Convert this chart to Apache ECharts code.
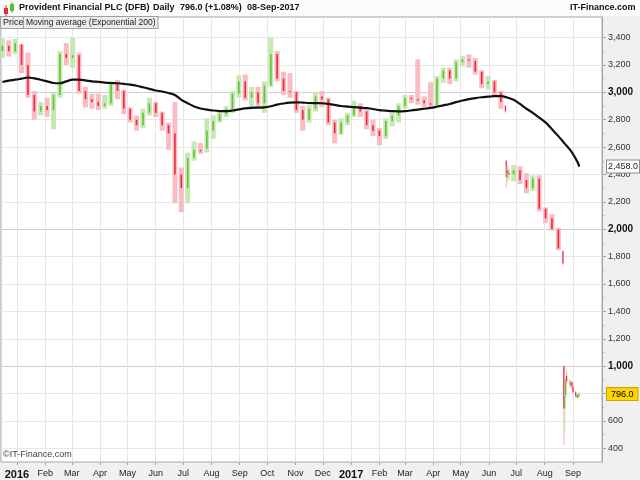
<!DOCTYPE html>
<html>
<head>
<meta charset="utf-8">
<script src="https://cdn.jsdelivr.net/npm/echarts@6/dist/echarts.min.js"></script>
<style>
  html, body { margin: 0; padding: 0; background: #f0f0f0; }
  #chart { width: 640px; height: 480px; }
</style>
</head>
<body>
<div id="chart"></div>
<script>
// weekly bars (Wednesday of each week)
const weekDates = [
  '2015-12-16', '2015-12-23', '2015-12-30', '2016-01-06', '2016-01-13', '2016-01-20', '2016-01-27', '2016-02-03',
  '2016-02-10', '2016-02-17', '2016-02-24', '2016-03-02', '2016-03-09', '2016-03-16', '2016-03-23', '2016-03-30',
  '2016-04-06', '2016-04-13', '2016-04-20', '2016-04-27', '2016-05-04', '2016-05-11', '2016-05-18', '2016-05-25',
  '2016-06-01', '2016-06-08', '2016-06-15', '2016-06-22', '2016-06-29', '2016-07-06', '2016-07-13', '2016-07-20',
  '2016-07-27', '2016-08-03', '2016-08-10', '2016-08-17', '2016-08-24', '2016-08-31', '2016-09-07', '2016-09-14',
  '2016-09-21', '2016-09-28', '2016-10-05', '2016-10-12', '2016-10-19', '2016-10-26', '2016-11-02', '2016-11-09',
  '2016-11-16', '2016-11-23', '2016-11-30', '2016-12-07', '2016-12-14', '2016-12-21', '2016-12-28', '2017-01-04',
  '2017-01-11', '2017-01-18', '2017-01-25', '2017-02-01', '2017-02-08', '2017-02-15', '2017-02-22', '2017-03-01',
  '2017-03-08', '2017-03-15', '2017-03-22', '2017-03-29', '2017-04-05', '2017-04-12', '2017-04-19', '2017-04-26',
  '2017-05-03', '2017-05-10', '2017-05-17', '2017-05-24', '2017-05-31', '2017-06-07', '2017-06-14',
  '2017-06-28', '2017-07-05', '2017-07-12', '2017-07-19', '2017-07-26', '2017-08-02', '2017-08-09', '2017-08-16'
]
const weekOpen = [
  3300, 3340, 3300, 3350, 3200, 2980, 2860, 2900, 2870, 2980, 3280, 3250, 3270, 3010, 2950, 2930,
  2900, 2920, 3060, 3010, 2880, 2800, 2760, 2850, 2920, 2850, 2760, 2700, 2400, 2300, 2520, 2580,
  2590, 2720, 2790, 2840, 2880, 2990, 3080, 2960, 3000, 2920, 3050, 3280, 3100, 3010, 3000, 2870,
  2800, 2880, 2970, 2950, 2780, 2700, 2780, 2830, 2900, 2860, 2760, 2720, 2680, 2790, 2830, 2900,
  2960, 2950, 2940, 2920, 2910, 3100, 3160, 3100, 3220, 3240, 3230, 3150, 3060, 3080, 3000,
  2400, 2430, 2360, 2300, 2370, 2150, 2080, 2000
]
const weekClose = [
  3340, 3300, 3360, 3200, 2980, 2860, 2900, 2870, 2980, 3280, 3250, 3270, 3010, 2950, 2930, 2900,
  2920, 3060, 3010, 2880, 2800, 2760, 2850, 2920, 2850, 2760, 2700, 2400, 2300, 2520, 2580, 2570,
  2720, 2790, 2840, 2880, 2990, 3080, 2960, 3000, 2920, 3050, 3280, 3100, 3010, 3000, 2870, 2800,
  2880, 2970, 2950, 2780, 2700, 2780, 2830, 2900, 2860, 2760, 2720, 2680, 2790, 2830, 2900, 2960,
  2950, 2940, 2920, 2910, 3100, 3160, 3100, 3220, 3240, 3230, 3150, 3060, 3080, 3000, 2930,
  2430, 2360, 2300, 2370, 2150, 2080, 2000, 1860
]
const weekLow = [
  3250, 3260, 3280, 3140, 2960, 2800, 2830, 2820, 2730, 2960, 3200, 3180, 2990, 2890, 2880, 2870,
  2880, 2900, 2950, 2840, 2780, 2720, 2740, 2830, 2820, 2720, 2580, 2190, 2124, 2190, 2500, 2550,
  2560, 2660, 2780, 2820, 2850, 2960, 2940, 2890, 2890, 2850, 3040, 3080, 2980, 2960, 2850, 2720,
  2780, 2860, 2890, 2760, 2627, 2690, 2760, 2820, 2820, 2730, 2680, 2613, 2660, 2750, 2780, 2880,
  2920, 2910, 2890, 2880, 2900, 3070, 3060, 3080, 3190, 3180, 3130, 3030, 3020, 2970, 2880,
  2350, 2330, 2263, 2280, 2130, 2043, 1990, 1847
]
const weekHigh = [
  3394, 3380, 3390, 3350, 3290, 3010, 2930, 2960, 3000, 3300, 3360, 3400, 3290, 3040, 2990, 2990,
  2980, 3080, 3090, 3020, 2890, 2830, 2880, 2960, 2930, 2860, 2780, 2930, 2450, 2560, 2640, 2630,
  2810, 2830, 2870, 2900, 3010, 3124, 3130, 3040, 3040, 3080, 3400, 3300, 3150, 3140, 3010, 2900,
  2910, 3000, 3010, 2960, 2800, 2810, 2850, 2940, 2920, 2870, 2800, 2740, 2810, 2850, 2920, 2980,
  2980, 3241, 2970, 3073, 3120, 3180, 3180, 3240, 3265, 3277, 3250, 3160, 3120, 3090, 3010,
  2470, 2460, 2410, 2394, 2394, 2160, 2110, 2010
]

// daily bars around the two profit warnings
const dayDates = [
  '2017-06-19', '2017-06-20', '2017-06-21', '2017-06-22', '2017-06-23',
  '2017-08-21', '2017-08-22', '2017-08-23', '2017-08-24', '2017-08-25', '2017-08-29', '2017-08-30',
  '2017-08-31', '2017-09-01', '2017-09-04', '2017-09-05', '2017-09-06', '2017-09-07', '2017-09-08'
]
const dayOpen = [2900, 2500, 2380, 2430, 2410, 1840, 1000, 690, 780, 930, 890, 860, 880, 850, 810, 780, 790, 780, 787]
const dayClose = [2860, 2380, 2430, 2410, 2400, 1750, 690, 780, 900, 890, 860, 880, 850, 810, 780, 790, 770, 787, 796]
const dayLow = [2847, 2306, 2340, 2370, 2360, 1737, 423, 530, 770, 870, 840, 840, 830, 800, 770, 766, 766, 770, 775]
const dayHigh = [2910, 2504, 2470, 2460, 2440, 1850, 1007, 800, 920, 969, 900, 890, 890, 860, 820, 800, 800, 810, 805]

// exponential moving average (200)
const emaDates = [
  '2015-12-16', '2015-12-23', '2015-12-30', '2016-01-06', '2016-01-13', '2016-01-20', '2016-01-27', '2016-02-03',
  '2016-02-10', '2016-02-17', '2016-02-24', '2016-03-02', '2016-03-09', '2016-03-16', '2016-03-23', '2016-03-30',
  '2016-04-06', '2016-04-13', '2016-04-20', '2016-04-27', '2016-05-04', '2016-05-11', '2016-05-18', '2016-05-25',
  '2016-06-01', '2016-06-08', '2016-06-15', '2016-06-22', '2016-06-29', '2016-07-06', '2016-07-13', '2016-07-20',
  '2016-07-27', '2016-08-03', '2016-08-10', '2016-08-17', '2016-08-24', '2016-08-31', '2016-09-07', '2016-09-14',
  '2016-09-21', '2016-09-28', '2016-10-05', '2016-10-12', '2016-10-19', '2016-10-26', '2016-11-02', '2016-11-09',
  '2016-11-16', '2016-11-23', '2016-11-30', '2016-12-07', '2016-12-14', '2016-12-21', '2016-12-28', '2017-01-04',
  '2017-01-11', '2017-01-18', '2017-01-25', '2017-02-01', '2017-02-08', '2017-02-15', '2017-02-22', '2017-03-01',
  '2017-03-08', '2017-03-15', '2017-03-22', '2017-03-29', '2017-04-05', '2017-04-12', '2017-04-19', '2017-04-26',
  '2017-05-03', '2017-05-10', '2017-05-17', '2017-05-24', '2017-05-31', '2017-06-07', '2017-06-14', '2017-06-21',
  '2017-06-28', '2017-07-05', '2017-07-12', '2017-07-19', '2017-07-26', '2017-08-02', '2017-08-09', '2017-08-16',
  '2017-08-23', '2017-08-30', '2017-09-06', '2017-09-08'
]
const emaValues = [
  3075, 3085, 3092, 3100, 3108, 3102, 3092, 3080, 3068, 3066, 3080, 3092, 3093, 3087, 3080, 3076,
  3071, 3068, 3066, 3062, 3056, 3048, 3037, 3025, 3013, 3006, 2995, 2980, 2945, 2920, 2897, 2882,
  2873, 2867, 2863, 2862, 2867, 2875, 2882, 2886, 2888, 2890, 2898, 2910, 2918, 2924, 2927, 2925,
  2922, 2921, 2920, 2915, 2908, 2900, 2896, 2892, 2888, 2884, 2878, 2870, 2866, 2862, 2861, 2863,
  2868, 2874, 2880, 2886, 2895, 2905, 2915, 2928, 2940, 2950, 2958, 2964, 2968, 2972, 2972, 2962,
  2945, 2915, 2880, 2850, 2815, 2780, 2730, 2680, 2625, 2570, 2490, 2458
]

const monthTicks = [
  '2016-01-01', '2016-02-01', '2016-03-01', '2016-04-01', '2016-05-01', '2016-06-01', '2016-07-01',
  '2016-08-01', '2016-09-01', '2016-10-01', '2016-11-01', '2016-12-01', '2017-01-01', '2017-02-01',
  '2017-03-01', '2017-04-01', '2017-05-01', '2017-06-01', '2017-07-01', '2017-08-01', '2017-09-01'
]
const monthLabels = ['2016', 'Feb', 'Mar', 'Apr', 'May', 'Jun', 'Jul', 'Aug', 'Sep', 'Oct', 'Nov', 'Dec',
  '2017', 'Feb', 'Mar', 'Apr', 'May', 'Jun', 'Jul', 'Aug', 'Sep']
const yTicks = [400, 600, 800, 1000, 1200, 1400, 1600, 1800, 2000, 2200, 2400, 2600, 2800, 3000, 3200, 3400]
const yMinorTicks = [500, 700, 900, 1100, 1300, 1500, 1700, 1900, 2100, 2300, 2500, 2700, 2900, 3100, 3300]

const lastPrice = 796.0
const lastEma = 2458.0

const FONT = '"Liberation Sans", Arial, sans-serif'
// dates -> UTC timestamps, the x axis is a plain value axis over them
const ts = s => Date.parse(s.length === 10 ? s + 'T00:00:00Z' : s.replace(' ', 'T') + ':00Z')
const monthTs = monthTicks.map(ts)

const toBars = (dates, o, c, l, h) => dates.map((d, i) => [ts(d), o[i], c[i], l[i], h[i]])

const drawBar = (bodyW, wickW) => (params, api) => {
  const t = api.value(0)
  const o = api.value(1)
  const c = api.value(2)
  const [x, yH] = api.coord([t, api.value(4)])
  const yL = api.coord([t, api.value(3)])[1]
  const yO = api.coord([t, o])[1]
  const yC = api.coord([t, c])[1]
  const up = c >= o
  return {
    type: 'group',
    children: [
      {
        type: 'rect',
        shape: { x: x - wickW / 2, y: yH, width: wickW, height: Math.max(1, yL - yH) },
        style: { fill: up ? '#c6e8b2' : '#f8bcc2' }
      },
      {
        type: 'rect',
        shape: { x: x - bodyW / 2, y: Math.min(yO, yC), width: bodyW, height: Math.max(1, Math.abs(yC - yO)) },
        style: { fill: up ? '#62c232' : '#ea2a3c' }
      }
    ]
  }
}

const chart = echarts.init(document.querySelector('#chart'))

const option = {
  animation: false,
  backgroundColor: '#f0f0f0',
  textStyle: { fontFamily: FONT },
  grid: {
    left: 1, right: 38, top: 17, bottom: 18,
    show: true,
    backgroundColor: '#ffffff',
    borderColor: '#a8a8a8',
    borderWidth: 1
  },
  xAxis: {
    type: 'value',
    min: ts('2015-12-14 12:00'),
    max: ts('2017-10-02 19:00'),
    axisLine: { show: false },
    axisTick: { show: true, customValues: monthTs, length: 3, lineStyle: { color: '#a8a8a8' } },
    splitLine: { show: true, lineStyle: { color: '#e6e6e6', width: 1 } },
    axisLabel: {
      customValues: monthTs,
      margin: 7,
      fontSize: 9,
      color: '#222',
      fontFamily: FONT,
      formatter: value => {
        const i = monthTs.indexOf(value)
        const lab = i >= 0 ? monthLabels[i] : ''
        return /^\d{4}$/.test(lab) ? `{b|${lab}}` : lab
      },
      rich: { b: { fontSize: 11, fontWeight: 'bold', color: '#111', fontFamily: FONT } }
    }
  },
  yAxis: [
    {
      type: 'value',
      position: 'right',
      min: 300,
      max: 3550,
      axisLine: { show: true, lineStyle: { color: '#a8a8a8' } },
      axisTick: { show: true, customValues: yTicks, length: 4, lineStyle: { color: '#a8a8a8' } },
      splitLine: {
        show: true,
        lineStyle: { color: ['#e8e8e8', '#e8e8e8', '#e8e8e8', '#cdcdcd', '#e8e8e8'], width: 1 }
      },
      axisLabel: {
        customValues: yTicks,
        margin: 6,
        fontSize: 9,
        color: '#333',
        fontFamily: FONT,
        formatter: v => {
          const s = v.toLocaleString('en-US')
          return v % 1000 === 0 ? `{b|${s}}` : s
        },
        rich: { b: { fontSize: 10, fontWeight: 'bold', color: '#111', fontFamily: FONT } }
      }
    },
    {
      type: 'value',
      position: 'right',
      min: 300,
      max: 3550,
      axisLine: { show: false },
      axisTick: { show: true, customValues: yMinorTicks, length: 2, lineStyle: { color: '#a8a8a8' } },
      splitLine: { show: false },
      axisLabel: { show: false }
    }
  ],
  series: [
    {
      name: 'Price',
      type: 'custom',
      renderItem: drawBar(1.6, 5),
      encode: { x: 0, y: [1, 2, 3, 4] },
      clip: true,
      data: toBars(weekDates, weekOpen, weekClose, weekLow, weekHigh)
    },
    {
      name: 'Price daily',
      type: 'custom',
      renderItem: drawBar(1.2, 1.2),
      encode: { x: 0, y: [1, 2, 3, 4] },
      clip: true,
      data: toBars(dayDates, dayOpen, dayClose, dayLow, dayHigh)
    },
    {
      name: 'Moving average (Exponential 200)',
      type: 'line',
      z: 5,
      clip: false,
      smooth: 0.3,
      showSymbol: false,
      lineStyle: { color: '#111', width: 2.2 },
      data: emaDates.map((d, i) => [ts(d), emaValues[i]]),
      markLine: {
        silent: true,
        symbol: 'none',
        lineStyle: { color: 'rgba(0,0,0,0)', width: 1 },
        data: [
          {
            yAxis: lastPrice,
            label: {
              show: true, position: 'end', distance: 5, formatter: lastPrice.toFixed(1),
              fontSize: 9, color: '#000', fontFamily: FONT,
              backgroundColor: '#ffd400', borderColor: '#c8a400', borderWidth: 1, padding: [2, 4, 1, 4]
            }
          },
          {
            yAxis: lastEma,
            label: {
              show: true, position: 'end', distance: 5, formatter: lastEma.toLocaleString('en-US', { minimumFractionDigits: 1 }),
              fontSize: 9, color: '#222', fontFamily: FONT,
              backgroundColor: '#ffffff', borderColor: '#888', borderWidth: 1, padding: [2, 1, 1, 1]
            }
          }
        ]
      }
    }
  ],
  graphic: [
    { type: 'rect', left: 0, top: 0, shape: { width: 640, height: 16 }, style: { fill: '#fbfbfb' }, z: 10 },
    // icon
    { type: 'rect', shape: { x: 5.5, y: 5, width: 1, height: 11 }, style: { fill: '#e9283a' }, z: 11 },
    { type: 'rect', shape: { x: 4, y: 8, width: 4, height: 6 }, style: { fill: '#e9283a' }, z: 11 },
    { type: 'rect', shape: { x: 11.5, y: 2, width: 1, height: 11 }, style: { fill: '#5cbf2a' }, z: 11 },
    { type: 'rect', shape: { x: 10, y: 4, width: 4, height: 7 }, style: { fill: '#5cbf2a' }, z: 11 },
    { type: 'text', x: 19, y: 3, z: 11, style: { text: 'Provident Financial PLC (DFB)', font: `bold 9px ${FONT}`, fill: '#111' } },
    { type: 'text', x: 153, y: 3, z: 11, style: { text: 'Daily', font: `bold 9px ${FONT}`, fill: '#111' } },
    { type: 'text', x: 180, y: 3, z: 11, style: { text: '796.0 (+1.08%)', font: `bold 9px ${FONT}`, fill: '#111' } },
    { type: 'text', x: 247, y: 3, z: 11, style: { text: '08-Sep-2017', font: `bold 9px ${FONT}`, fill: '#111' } },
    { type: 'text', x: 570, y: 3, z: 11, style: { text: 'IT-Finance.com', font: `bold 9px ${FONT}`, fill: '#111' } },
    // legend boxes
    {
      type: 'text', x: 1, y: 17, z: 11,
      style: {
        text: 'Price', font: `9px ${FONT}`, fill: '#222',
        backgroundColor: '#ececec', borderColor: '#a0a0a0', borderWidth: 1, padding: [1, 2, 1, 2]
      }
    },
    {
      type: 'text', x: 24, y: 17, z: 11,
      style: {
        text: 'Moving average (Exponential 200)', font: `8.5px ${FONT}`, fill: '#222',
        backgroundColor: '#ececec', borderColor: '#a0a0a0', borderWidth: 1, padding: [1, 2, 1, 2]
      }
    },
    { type: 'text', x: 3, y: 450, z: 11, style: { text: '©IT-Finance.com', font: `9px ${FONT}`, fill: '#444' } }
  ]
}

chart.setOption(option)
</script>
</body>
</html>
